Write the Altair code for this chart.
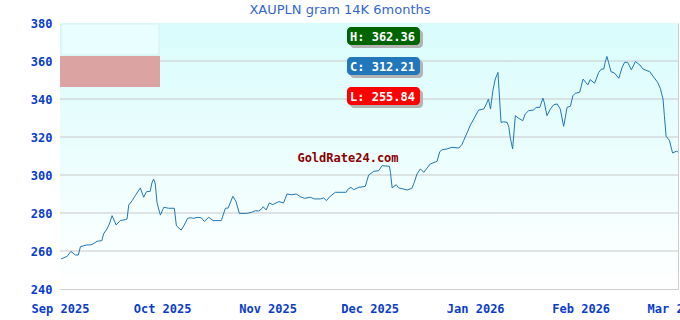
import altair as alt
import pandas as pd

# ---------------- data ----------------
days_since_sep1 = [
    0.3, 2.1, 3.2, 4.5, 5.4, 6.0, 7.9, 8.9, 9.7, 10.9,
    12.3, 12.8, 13.8, 14.5, 15.3, 16.5, 17.7, 19.2, 19.7, 20.2,
    21.2, 22.1, 23.6, 24.6, 25.4, 26.5, 27.0, 27.5, 28.0, 28.5,
    29.0, 29.5, 30.5, 31.9, 33.6, 34.2, 35.6, 36.4, 37.5, 38.3,
    39.3, 40.3, 41.5, 42.4, 43.7, 45.0, 47.4, 48.6, 49.4, 50.8,
    51.7, 52.7, 54.8, 56.4, 57.4, 58.4, 59.4, 59.7, 60.6, 61.5,
    62.5, 64.3, 65.7, 66.7, 68.0, 69.4, 70.6, 71.9, 73.6, 74.7,
    76.5, 77.5, 78.3, 79.4, 80.9, 84.1, 84.5, 85.5, 86.3, 87.8,
    89.7, 90.7, 92.2, 93.7, 94.6, 96.8, 97.1, 97.6, 98.8, 99.5,
    101.0, 102.0, 103.4, 104.1, 104.9, 105.9, 106.9, 108.8, 110.8, 111.6,
    112.3, 113.7, 115.2, 117.2, 118.1, 118.6, 119.6, 120.6, 121.6, 123.0,
    124.5, 125.3, 125.9, 126.5, 127.2, 127.9, 128.7, 128.9, 129.6, 130.4,
    131.4, 131.9, 132.3, 133.0, 133.8, 134.8, 136.0, 136.7, 137.7, 139.2,
    139.9, 141.0, 141.9, 142.3, 143.1, 144.1, 145.1, 146.1, 147.0, 148.0,
    148.5, 149.0, 150.0, 150.7, 151.4, 152.7, 153.7, 155.1, 155.8, 157.1,
    158.3, 159.1, 159.8, 160.2, 160.7, 161.2, 161.9, 162.9, 164.2, 165.2,
    165.9, 166.8, 167.9, 169.1, 170.4, 171.3, 172.5, 173.3, 174.5, 175.6,
    176.4, 177.2, 177.6, 178.1, 179.1, 180.0, 181.1, 181.6,
]
price_pln = [
    255.8, 257.2, 259.8, 257.9, 257.9, 262.3, 263.2, 263.2, 263.7, 265.1,
    265.5, 269.0, 271.6, 274.2, 278.6, 273.7, 276.0, 276.5, 276.8, 284.2,
    286.5, 289.1, 293.2, 288.3, 291.2, 291.4, 295.8, 297.9, 295.3, 285.6,
    282.1, 278.9, 283.0, 282.5, 282.5, 273.3, 271.0, 273.3, 277.2, 277.5,
    277.2, 277.7, 277.5, 275.6, 277.7, 276.0, 276.0, 282.5, 282.6, 288.8,
    286.1, 279.8, 279.8, 280.4, 281.2, 281.0, 282.5, 283.3, 281.6, 285.3,
    284.4, 286.0, 285.3, 290.0, 289.6, 290.0, 288.6, 287.7, 288.3, 287.4,
    287.4, 287.9, 286.5, 288.8, 290.9, 290.9, 292.3, 293.5, 292.3, 293.5,
    294.0, 300.0, 301.9, 302.3, 304.9, 304.6, 301.4, 293.2, 294.9, 293.2,
    292.6, 292.1, 293.0, 296.1, 300.5, 303.2, 301.4, 305.8, 307.2, 312.3,
    313.3, 313.7, 314.6, 314.2, 316.0, 318.1, 322.1, 326.3, 329.5, 334.2,
    334.7, 337.4, 340.0, 334.7, 344.4, 350.5, 354.0, 347.9, 327.7, 328.0,
    327.7, 325.1, 319.8, 313.7, 331.2, 329.8, 328.6, 332.1, 333.8, 334.2,
    335.6, 335.6, 340.5, 338.2, 331.2, 334.7, 337.0, 337.4, 334.7, 325.6,
    330.4, 335.6, 336.2, 341.7, 343.0, 343.5, 350.5, 347.4, 350.2, 348.3,
    354.0, 355.8, 355.8, 359.3, 362.4, 359.3, 354.4, 353.7, 350.9, 356.7,
    359.3, 359.3, 355.4, 359.7, 357.9, 355.8, 354.9, 354.4, 351.4, 348.8,
    345.6, 340.0, 331.2, 320.4, 318.1, 311.6, 312.5, 312.2,
]
y_ticks = [240, 260, 280, 300, 320, 340, 360, 380]
grid_levels = [260, 280, 300, 320, 340, 360]
badge_labels = ["H: 362.36", "C: 312.21", "L: 255.84"]
badge_colors = ["#006400", "#2277bb", "#ff0000"]
chart_title = "XAUPLN gram 14K 6months"
watermark = "GoldRate24.com"

# ---------------- layout ----------------
W, H = 618, 266
PAD = {"left": 60, "top": 23, "right": 2, "bottom": 31}
BADGE_X, BADGE_W, BADGE_H = 287, 73, 18
BADGE_TOPS = [4, 34, 64]
AXIS_BLUE = "#0a3ccc"
MONO = "DejaVu Sans Mono"

start = pd.Timestamp("2025-09-01")
dates = [(start + pd.to_timedelta(d, unit="D")).strftime("%Y-%m-%dT%H:%M:%S")
         for d in days_since_sep1]
df = pd.DataFrame({"date": dates, "price": price_pln})

x_scale = alt.Scale(domain=[alt.DateTime(year=2025, month=9, date=1),
                            alt.DateTime(year=2026, month=3, date=1, hours=14, minutes=24)])
y_scale = alt.Scale(domain=[240, 380], nice=False, zero=False)
month_ticks = [alt.DateTime(year=2025, month=m, date=1) for m in (9, 10, 11, 12)] + \
              [alt.DateTime(year=2026, month=m, date=1) for m in (1, 2, 3)]

x_axis = alt.Axis(values=month_ticks, format="%b %Y", grid=False, ticks=False,
                  domain=False, labelPadding=14, labelFont=MONO,
                  labelFontWeight="bold", labelFontSize=12, labelColor=AXIS_BLUE,
                  labelOverlap=False, labelBound=False, labelFlush=False)
y_axis = alt.Axis(values=y_ticks, grid=False, ticks=False, domain=False,
                  labelPadding=8, labelFont=MONO, labelFontWeight="bold",
                  labelFontSize=12, labelColor=AXIS_BLUE, labelOverlap=False,
                  labelFlush=False)

one = pd.DataFrame({"k": [0]})

background = alt.Chart(one).mark_rect(
    fill=alt.Gradient(gradient="linear", x1=0, x2=0, y1=0, y2=1,
                      stops=[alt.GradientStop(color="#d9fcfc", offset=0),
                             alt.GradientStop(color="#ffffff", offset=1)])
).encode(x=alt.value(0), x2=alt.value(W), y=alt.value(0), y2=alt.value(H))

grid = alt.Chart(pd.DataFrame({"level": grid_levels})).mark_rule(
    color="#c8c8c8", strokeWidth=1
).encode(y=alt.Y("level:Q", scale=y_scale, axis=y_axis, title=None))

line = alt.Chart(df).mark_line(color="#1f77b4", strokeWidth=1, interpolate="linear").encode(
    x=alt.X("date:T", scale=x_scale, title=None, axis=x_axis),
    y=alt.Y("price:Q", scale=y_scale, title=None, axis=y_axis),
)

legend_light = alt.Chart(one).mark_rect(fill="#e9fefe", stroke="#d3efef", strokeWidth=1).encode(
    x=alt.value(1), x2=alt.value(99), y=alt.value(1), y2=alt.value(32))
legend_pink = alt.Chart(one).mark_rect(fill="#dca3a3").encode(
    x=alt.value(0), x2=alt.value(100), y=alt.value(33), y2=alt.value(64))

layers = [background, grid, line, legend_light, legend_pink]

for lbl, col, top in zip(badge_labels, badge_colors, BADGE_TOPS):
    layers.append(alt.Chart(one).mark_rect(fill="#b4b4b4", cornerRadius=4).encode(
        x=alt.value(BADGE_X + 3), x2=alt.value(BADGE_X + BADGE_W + 3),
        y=alt.value(top + 3), y2=alt.value(top + BADGE_H + 3)))
    layers.append(alt.Chart(one).mark_rect(fill=col, cornerRadius=4).encode(
        x=alt.value(BADGE_X), x2=alt.value(BADGE_X + BADGE_W),
        y=alt.value(top), y2=alt.value(top + BADGE_H)))
    layers.append(alt.Chart(one).mark_text(
        text=lbl, color="white", font=MONO, fontWeight="bold", fontSize=12,
        align="left", baseline="middle").encode(
        x=alt.value(BADGE_X + 3), y=alt.value(top + BADGE_H / 2 + 0.5)))

layers.append(alt.Chart(one).mark_text(
    text=watermark, color="#8b0000", font=MONO, fontWeight="bold", fontSize=12,
    align="center", baseline="middle").encode(x=alt.value(288), y=alt.value(135)))

layers.append(alt.Chart(one).mark_text(
    text=chart_title, color="#3366cc", font="DejaVu Sans", fontSize=13,
    align="center", baseline="middle").encode(x=alt.value(280), y=alt.value(-13)))

chart = alt.layer(*layers).properties(
    width=W, height=H,
    autosize=alt.AutoSizeParams(type="none"),
    padding=PAD,
    background="white",
).configure_view(stroke="#cccccc", strokeWidth=1)

chart.save("out.html", embed_options={"renderer": "svg", "actions": False})
